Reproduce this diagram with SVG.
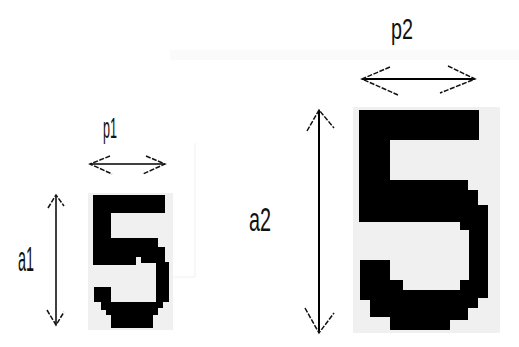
<svg xmlns="http://www.w3.org/2000/svg" width="519" height="347" viewBox="0 0 519 347">
  <style>
    .bg { fill: #ffffff; }
    .tile { fill: #f0f0f0; }
    .glyph { fill: #000000; }
    .label { font-family: "Liberation Sans", Arial, sans-serif; fill: #111111; }
    .shaft { stroke: #000000; fill: none; }
    .barb { stroke: #111111; fill: none; stroke-width: 1.5; stroke-dasharray: 5 1.5; }
    .faint { stroke: #f1f1f1; fill: none; stroke-width: 1; }
  </style>
  <rect class="bg" x="0" y="0" width="519" height="347"/>

  <!-- faint scan residue -->
  <rect x="170" y="50" width="349" height="10" fill="#fafafa"/>
  <path class="faint" d="M195 143 V277 M140 277 H195"/>

  <!-- small pixel digit -->
  <g id="small-five">
    <rect class="tile" x="88" y="193" width="85" height="137"/>
    <polygon class="glyph" points="93,195 165,195 165,213 111,213 111,238 158,238 158,247 165,247 165,262 169,262 169,302 163,302 163,308 158,308 158,315 153,315 153,328 111,328 111,315 106,315 106,310 101,310 101,302 94,302 94,287 111,287 111,302 156,302 156,263 141,263 141,257 136,257 136,265 93,265"/>
  </g>

  <!-- large pixel digit -->
  <g id="large-five">
    <rect class="tile" x="353" y="107" width="147" height="226"/>
    <polygon class="glyph" points="359,110 479,110 479,140 390,140 390,180 468,180 468,190 478,190 478,205 488,205 488,298 478,298 478,308 468,308 468,320 450,320 450,330 390,330 390,317 370,317 370,300 360,300 360,260 390,260 390,280 403,280 403,290 460,290 460,280 469,280 469,230 460,230 460,222 359,222"/>
  </g>

  <!-- dimension labels -->
  <g id="label-p1"><text class="label" x="103" y="138" font-size="29" textLength="14" lengthAdjust="spacingAndGlyphs">p1</text></g>
  <g id="label-a1"><text class="label" x="18" y="271" font-size="35" textLength="16" lengthAdjust="spacingAndGlyphs">a1</text></g>
  <g id="label-p2"><text class="label" x="391" y="39" font-size="29" textLength="22" lengthAdjust="spacingAndGlyphs">p2</text></g>
  <g id="label-a2"><text class="label" x="249" y="231" font-size="34" textLength="22" lengthAdjust="spacingAndGlyphs">a2</text></g>

  <!-- dimension arrows -->
  <g id="connectors">
    <!-- p1 width -->
    <line class="shaft" x1="90" y1="164" x2="165" y2="164" stroke-width="1.5"/>
    <path class="barb" d="M110 156 L90 164 L112 174"/>
    <path class="barb" d="M146 156 L165 164 L143 174"/>
    <!-- a1 height -->
    <line class="shaft" x1="56" y1="195" x2="56" y2="325" stroke-width="1.5"/>
    <path class="barb" d="M48 208 L56 195 L64 206"/>
    <path class="barb" d="M47 310 L56 325 L64 312"/>
    <!-- p2 width -->
    <line class="shaft" x1="362" y1="79" x2="475" y2="79" stroke-width="2"/>
    <path class="barb" d="M390 67 L362 79 L398 95"/>
    <path class="barb" d="M448 66 L475 79 L440 93"/>
    <!-- a2 height -->
    <line class="shaft" x1="319" y1="110" x2="319" y2="333" stroke-width="2"/>
    <path class="barb" d="M307 131 L319 110 L334 128"/>
    <path class="barb" d="M305 308 L319 333 L334 313"/>
  </g>
</svg>
